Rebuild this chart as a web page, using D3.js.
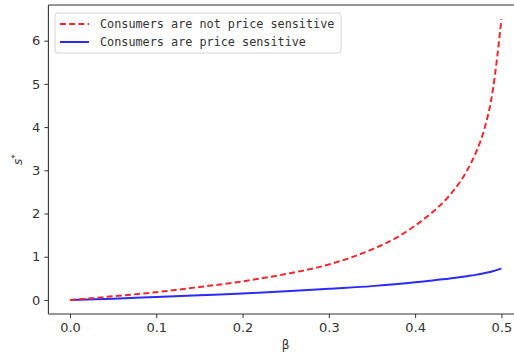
<!DOCTYPE html>
<html><head><meta charset="utf-8">
<script src="https://cdn.jsdelivr.net/npm/d3@7"></script>
<style>html,body{margin:0;padding:0;background:#fff;overflow:hidden}</style>
</head><body>
<script>
const beta = [0, 0.05, 0.1, 0.15, 0.2, 0.25, 0.3, 0.35, 0.38, 0.4, 0.42, 0.44, 0.46, 0.47, 0.48, 0.49, 0.495, 0.5];
const notSensitive = [0, 0.085, 0.18, 0.3, 0.43, 0.6, 0.82, 1.17, 1.46, 1.72, 2.03, 2.42, 2.99, 3.39, 3.94, 4.85, 5.6, 6.5];
const sensitive = [0, 0.03, 0.07, 0.11, 0.15, 0.2, 0.26, 0.32, 0.37, 0.41, 0.45, 0.495, 0.55, 0.58, 0.62, 0.665, 0.695, 0.73];
const xTicks = [0.0, 0.1, 0.2, 0.3, 0.4, 0.5];
const yTicks = [0, 1, 2, 3, 4, 5, 6];
const legendLabels = ["Consumers are not price sensitive", "Consumers are price sensitive"];

const W = 514, H = 354;
const L = 48.4, R = 523, T = 5, B = 314;
const svg = d3.select("body").append("svg").attr("width", W).attr("height", H);

const x = d3.scaleLinear().domain([-0.025, 0.525]).range([L, R]);
const y = d3.scaleLinear().domain([-0.325, 6.825]).range([B, T]);

const line = (vals) => d3.line().x((d, i) => x(beta[i])).y(d => y(d)).curve(d3.curveMonotoneX)(vals);

svg.append("path").attr("d", line(sensitive)).attr("fill", "none")
  .attr("stroke", "#2b2bf5").attr("stroke-width", 2);
svg.append("path").attr("d", line(notSensitive)).attr("fill", "none")
  .attr("stroke", "#ee2a2e").attr("stroke-width", 2).attr("stroke-dasharray", "6,3.2");

// spines
const sp = svg.append("g").attr("stroke", "#333").attr("stroke-width", 1.1).attr("fill", "none");
sp.append("line").attr("x1", L).attr("x2", L).attr("y1", T).attr("y2", B);
sp.append("line").attr("x1", L).attr("x2", R).attr("y1", B).attr("y2", B);
sp.append("line").attr("x1", L).attr("x2", R).attr("y1", T).attr("y2", T);
sp.append("line").attr("x1", R).attr("x2", R).attr("y1", T).attr("y2", B);

const xa = svg.append("g").attr("transform", `translate(0,${B})`)
  .call(d3.axisBottom(x).tickValues(xTicks).tickFormat(d3.format(".1f")).tickSize(4).tickPadding(5));
const ya = svg.append("g").attr("transform", `translate(${L},0)`)
  .call(d3.axisLeft(y).tickValues(yTicks).tickFormat(d3.format("d")).tickSize(4).tickPadding(4));
[xa, ya].forEach(g => {
  g.select(".domain").remove();
  g.selectAll("line").attr("stroke", "#333");
  g.selectAll("text").attr("fill", "#333").style("font-family", "DejaVu Sans").style("font-size", "13px");
});

svg.append("text").attr("x", (x(0) + x(0.5)) / 2).attr("y", 349).attr("text-anchor", "middle")
  .style("font-family", "DejaVu Sans").style("font-size", "12px").attr("fill", "#333").text("β");

const yl = svg.append("text").attr("transform", `translate(22,${(T + B) / 2}) rotate(-90)`)
  .attr("text-anchor", "middle").style("font-family", "DejaVu Sans").style("font-size", "12px").attr("fill", "#333");
yl.append("tspan").style("font-style", "italic").text("s");
yl.append("tspan").attr("dy", -4).style("font-size", "9px").text("*");

// legend
const lg = svg.append("g");
lg.append("rect").attr("x", 55).attr("y", 13).attr("width", 286).attr("height", 40).attr("rx", 3)
  .attr("fill", "#fff").attr("fill-opacity", 0.8).attr("stroke", "#d4d4d4").attr("stroke-width", 1);
const cols = ["#ee2a2e", "#2b2bf5"];
legendLabels.forEach((t, i) => {
  const yy = 24 + i * 18;
  lg.append("line").attr("x1", 60).attr("x2", 89).attr("y1", yy).attr("y2", yy)
    .attr("stroke", cols[i]).attr("stroke-width", 2).attr("stroke-dasharray", i === 0 ? "6,3.2" : null);
  lg.append("text").attr("x", 100).attr("y", yy + 4).style("font-family", "DejaVu Sans Mono")
    .style("font-size", "11.8px").attr("fill", "#333").text(t);
});
</script>
</body></html>
